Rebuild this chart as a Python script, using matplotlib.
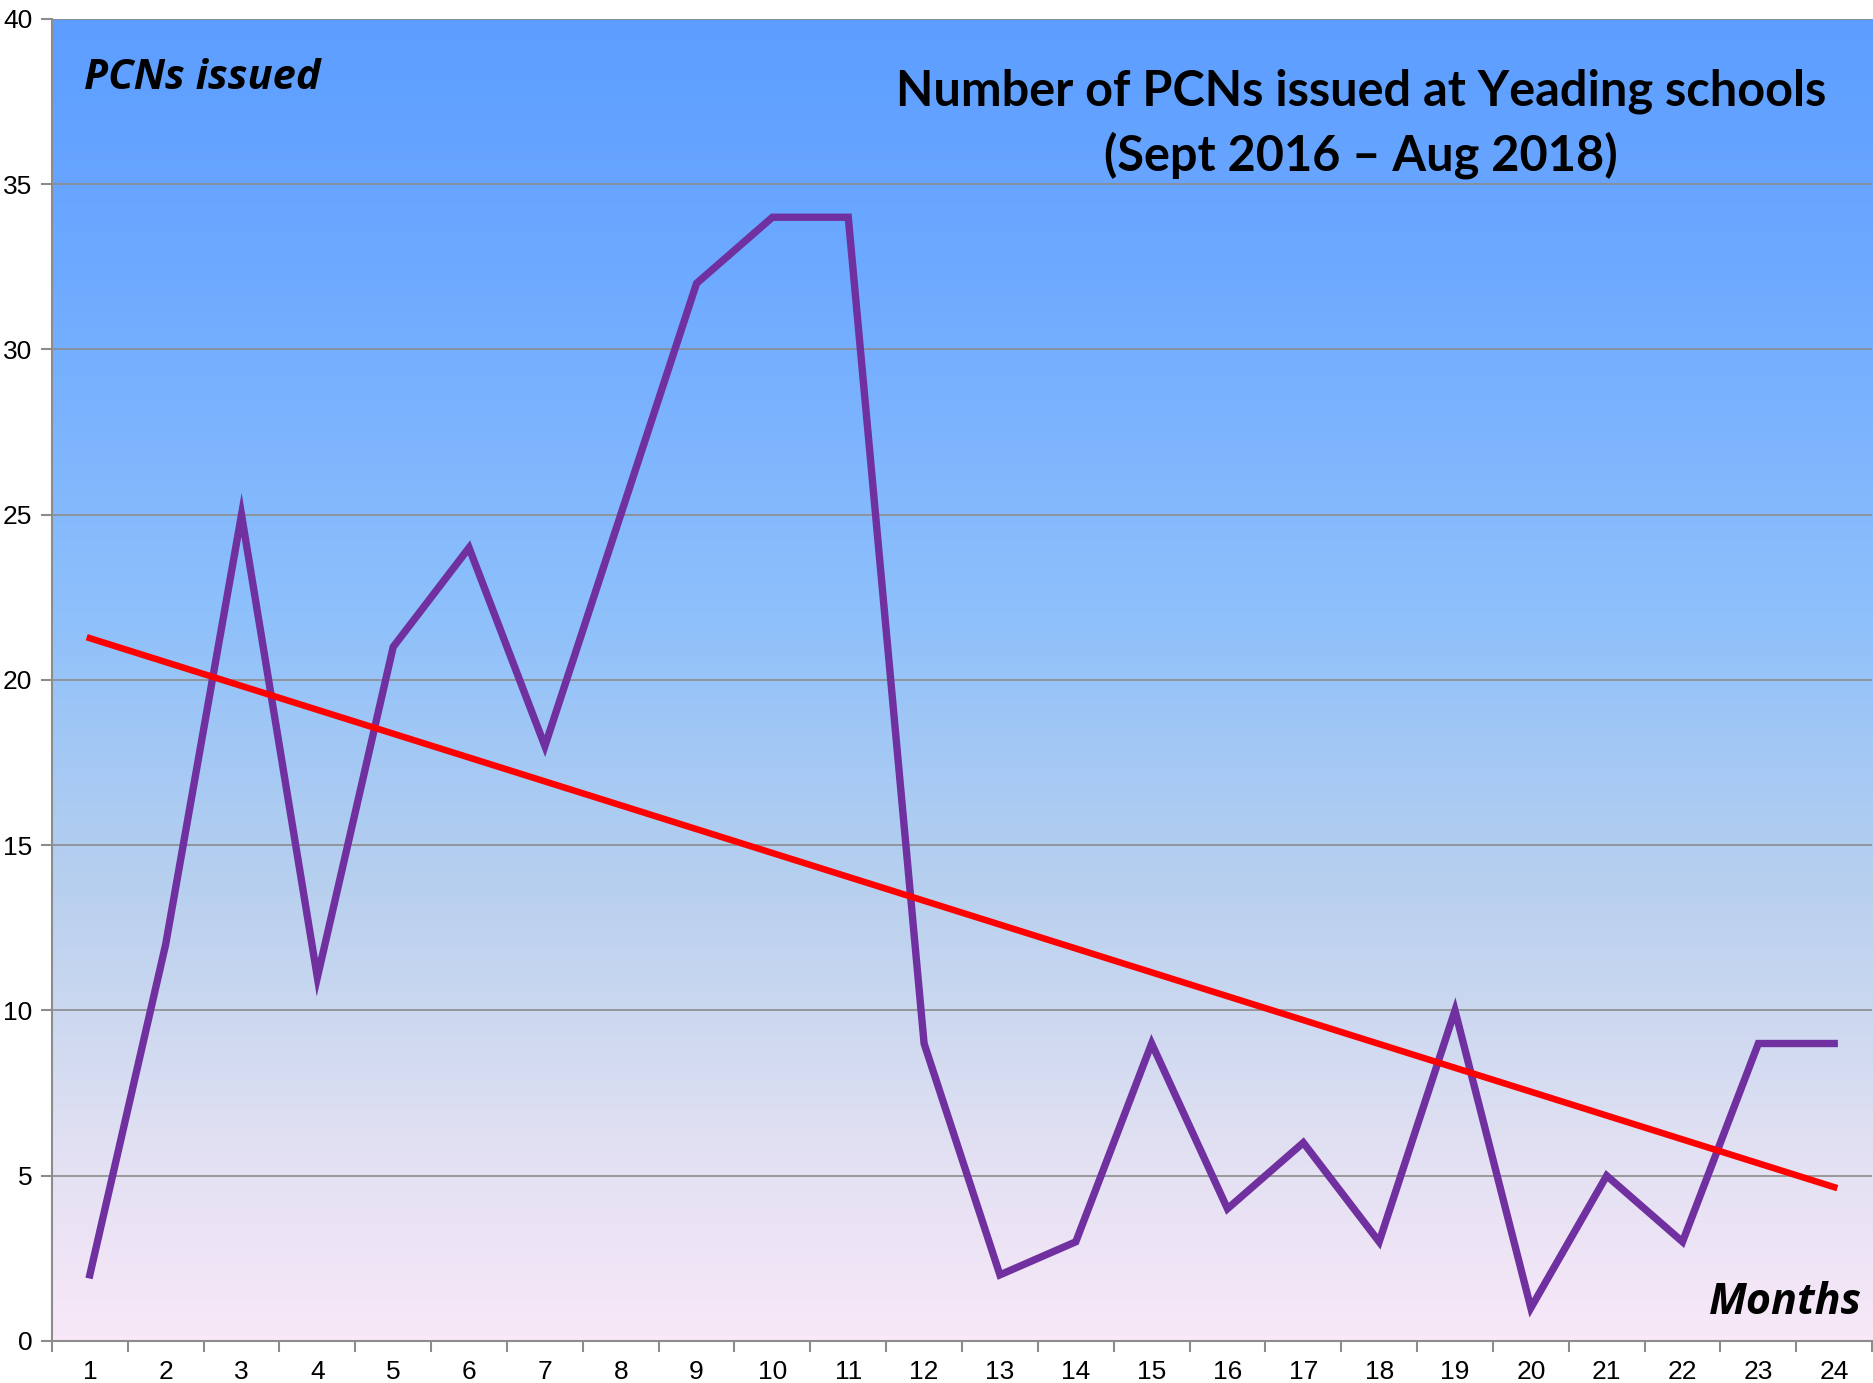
import numpy as np
import matplotlib
matplotlib.use("Agg")
import matplotlib.pyplot as plt
from matplotlib.colors import LinearSegmentedColormap

months = list(range(1, 25))
pcns = [2, 12, 25, 11, 21, 24, 18, 25, 32, 34, 34, 9, 2, 3, 9, 4, 6, 3, 10, 1, 5, 3, 9, 9]
y_ticks = [0, 5, 10, 15, 20, 25, 30, 35, 40]

fig = plt.figure(figsize=(18.74, 13.83), dpi=100)
ax = fig.add_axes([0.0277, 0.0304, 0.9713, 0.9559])

# background gradient (bottom -> top)
grad = LinearSegmentedColormap.from_list(
    "bg", [(0.0, "#F8E8F8"), (0.15, "#E0E0F2"), (0.34, "#B8D0EE"),
           (0.55, "#8EC0FB"), (0.80, "#6EAAFF"), (1.0, "#5C9DFF")])
ax.imshow(np.linspace(0, 1, 256).reshape(-1, 1), cmap=grad, aspect="auto",
          extent=[0.5, 24.5, 0, 40], origin="lower", zorder=0)

for v in y_ticks[1:]:
    ax.axhline(v, color="#8C8C8C", lw=1.2, zorder=1)

ax.plot(months, pcns, color="#7030A0", lw=5.3, solid_joinstyle="miter", zorder=3)

# linear trend line
slope, intercept = np.polyfit(months, pcns, 1)
trend = np.polyval([slope, intercept], months)
ax.plot(months, trend, color="#FF0000", lw=4.7, zorder=4)

ax.set_xlim(0.5, 24.5)
ax.set_ylim(0, 40)
ax.set_yticks(y_ticks)
ax.set_yticklabels([str(v) for v in y_ticks], family="Liberation Sans", fontsize=19)
ax.set_xticks(np.arange(0.5, 25, 1))
ax.set_xticklabels([])
ax.set_xticks(months, minor=True)
ax.set_xticklabels([str(m) for m in months], minor=True, family="Liberation Sans", fontsize=19)
ax.tick_params(axis="x", which="major", length=8, color="#8C8C8C", width=1.5)
ax.tick_params(axis="x", which="minor", length=0, pad=14)
ax.tick_params(axis="y", length=8, color="#8C8C8C", width=1.5, pad=6)

for s in ["top", "right"]:
    ax.spines[s].set_visible(False)
for s in ["left", "bottom"]:
    ax.spines[s].set_color("#8C8C8C")
    ax.spines[s].set_linewidth(1.5)

ax.text(0.0176, 0.955, "PCNs issued", transform=ax.transAxes, family="Open Sans",
        style="italic", weight="bold", fontsize=30, va="center", ha="left")
ax.text(0.9945, 0.029, "Months", transform=ax.transAxes, family="Open Sans",
        style="italic", weight="bold", fontsize=31, va="center", ha="right")
ax.text(0.719, 0.9206, "Number of PCNs issued at Yeading schools\n(Sept 2016 \u2013 Aug 2018)",
        transform=ax.transAxes, family="Lato", weight="bold", fontsize=35,
        ha="center", va="center", linespacing=1.45)

fig.savefig("out.png", dpi=100)
